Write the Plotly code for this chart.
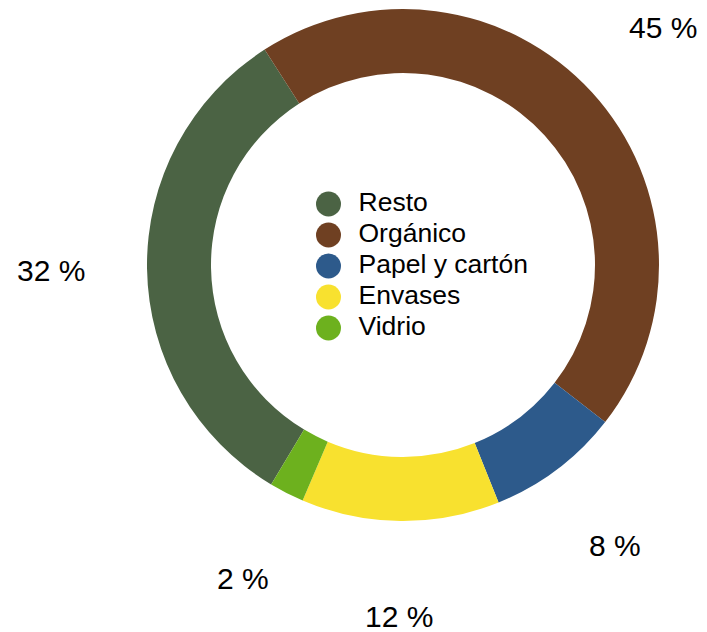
import math
import plotly.graph_objects as go

# ---- data ----
categories = ["Resto", "Orgánico", "Papel y cartón", "Envases", "Vidrio"]
values = [32.3, 44.6, 8.4, 12.5, 2.2]
pct_labels = ["32 %", "45 %", "8 %", "12 %", "2 %"]
colors = ["#4b6344", "#6f4022", "#2d5a8b", "#f8e12f", "#6db11e"]

# page body has an 8px margin: figure is drawn from (8, 8) in the window
OFF = 8
W, H = 707 - OFF, 632 - OFF
FONT = "Liberation Sans, Arial, Helvetica, sans-serif"

# pie geometry (window pixels -> figure pixels)
cx, cy, R = 403 - OFF, 265 - OFF, 256
rotation = 211
label_r = 352


def px_x(x):
    return x / W


def px_y(y):
    return 1 - y / H


fig = go.Figure()
fig.add_trace(go.Pie(
    labels=categories,
    values=values,
    hole=0.75,
    sort=False,
    direction="clockwise",
    rotation=rotation,
    marker=dict(colors=colors, line=dict(width=0)),
    textinfo="none",
    hoverinfo="label+percent",
    showlegend=False,
    domain=dict(x=[px_x(cx - R), px_x(cx + R)], y=[px_y(cy + R), px_y(cy - R)]),
))

# percentage labels placed radially at slice mid-angles
total = sum(values)
start = rotation
annotations = []
for v, lab in zip(values, pct_labels):
    span = v / total * 360
    mid = math.radians(start + span / 2)
    start += span
    px = cx + label_r * math.sin(mid)
    py = cy - label_r * math.cos(mid)
    annotations.append(dict(
        x=px_x(px), y=px_y(py), xref="paper", yref="paper",
        text=lab, showarrow=False, xanchor="center", yanchor="middle",
        font=dict(family=FONT, size=30, color="#000000"),
    ))

# custom legend in the hole (circle markers + text)
rows = [-i for i in range(len(categories))]
fig.add_trace(go.Scatter(
    x=[0] * len(categories), y=rows, mode="markers",
    marker=dict(size=25, color=colors, line=dict(width=0)),
    hoverinfo="skip", showlegend=False, xaxis="x", yaxis="y",
))
fig.add_trace(go.Scatter(
    x=[1] * len(categories), y=rows, mode="text", text=categories,
    textposition="middle right",
    textfont=dict(family=FONT, size=26.5, color="#000000"),
    hoverinfo="skip", showlegend=False, xaxis="x", yaxis="y",
))

lx0 = 300 - OFF
ly_top, ly_bot = 188.5 - OFF, 343.5 - OFF
fig.update_layout(
    width=W, height=H,
    margin=dict(l=0, r=0, t=0, b=0),
    paper_bgcolor="white", plot_bgcolor="rgba(0,0,0,0)",
    annotations=annotations,
    xaxis=dict(domain=[px_x(lx0), px_x(lx0 + 300)], range=[-0.95, 9.05], visible=False, fixedrange=True),
    yaxis=dict(domain=[px_y(ly_bot), px_y(ly_top)], range=[-4.5, 0.5], visible=False, fixedrange=True),
    font=dict(family=FONT),
)

fig.write_html("out.html")
